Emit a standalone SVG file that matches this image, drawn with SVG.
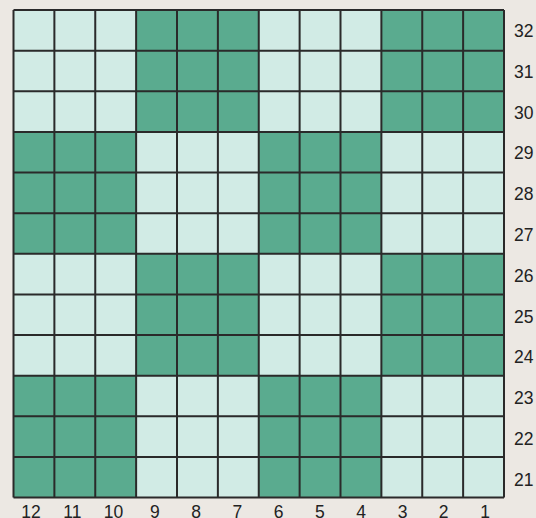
<svg xmlns="http://www.w3.org/2000/svg" width="536" height="518" viewBox="0 0 536 518">
<style>
.l{fill:#d1ebe5}
.d{fill:#5aab8f}
.g{stroke:#2a2a2a;stroke-width:2;fill:none}
text{font-family:"Liberation Sans",Arial,sans-serif;font-size:17.5px;fill:#222}
.b{text-anchor:middle}
</style>
<rect width="536" height="518" fill="#ece8e3"/>
<g id="cells">
<rect class="l" x="13.5" y="10" width="122.625" height="121.875"/>
<rect class="d" x="136.125" y="10" width="122.625" height="121.875"/>
<rect class="l" x="258.75" y="10" width="122.625" height="121.875"/>
<rect class="d" x="381.375" y="10" width="122.625" height="121.875"/>
<rect class="d" x="13.5" y="131.875" width="122.625" height="121.875"/>
<rect class="l" x="136.125" y="131.875" width="122.625" height="121.875"/>
<rect class="d" x="258.75" y="131.875" width="122.625" height="121.875"/>
<rect class="l" x="381.375" y="131.875" width="122.625" height="121.875"/>
<rect class="l" x="13.5" y="253.75" width="122.625" height="121.875"/>
<rect class="d" x="136.125" y="253.75" width="122.625" height="121.875"/>
<rect class="l" x="258.75" y="253.75" width="122.625" height="121.875"/>
<rect class="d" x="381.375" y="253.75" width="122.625" height="121.875"/>
<rect class="d" x="13.5" y="375.625" width="122.625" height="121.875"/>
<rect class="l" x="136.125" y="375.625" width="122.625" height="121.875"/>
<rect class="d" x="258.75" y="375.625" width="122.625" height="121.875"/>
<rect class="l" x="381.375" y="375.625" width="122.625" height="121.875"/>
</g>
<g id="grid" class="g">
<path d="M13.5 10V497.5M54.375 10V497.5M95.25 10V497.5M136.125 10V497.5M177 10V497.5M217.875 10V497.5M258.75 10V497.5M299.625 10V497.5M340.5 10V497.5M381.375 10V497.5M422.25 10V497.5M463.125 10V497.5M504 10V497.5"/>
<path d="M13.5 10H504M13.5 50.625H504M13.5 91.25H504M13.5 131.875H504M13.5 172.5H504M13.5 213.125H504M13.5 253.75H504M13.5 294.375H504M13.5 335H504M13.5 375.625H504M13.5 416.25H504M13.5 456.875H504M13.5 497.5H504"/>
</g>
<g id="row-labels">
<text x="514" y="37">32</text>
<text x="514" y="77.8">31</text>
<text x="514" y="118.6">30</text>
<text x="514" y="159.4">29</text>
<text x="514" y="200.2">28</text>
<text x="514" y="241">27</text>
<text x="514" y="281.8">26</text>
<text x="514" y="322.6">25</text>
<text x="514" y="363.4">24</text>
<text x="514" y="404.2">23</text>
<text x="514" y="445">22</text>
<text x="514" y="485.8">21</text>
</g>
<g id="col-labels" class="b">
<text class="b" x="31" y="518">12</text>
<text class="b" x="72.3" y="518">11</text>
<text class="b" x="113.5" y="518">10</text>
<text class="b" x="154.8" y="518">9</text>
<text class="b" x="196.1" y="518">8</text>
<text class="b" x="237.4" y="518">7</text>
<text class="b" x="278.6" y="518">6</text>
<text class="b" x="319.9" y="518">5</text>
<text class="b" x="361.2" y="518">4</text>
<text class="b" x="402.5" y="518">3</text>
<text class="b" x="443.7" y="518">2</text>
<text class="b" x="485" y="518">1</text>
</g>
</svg>
